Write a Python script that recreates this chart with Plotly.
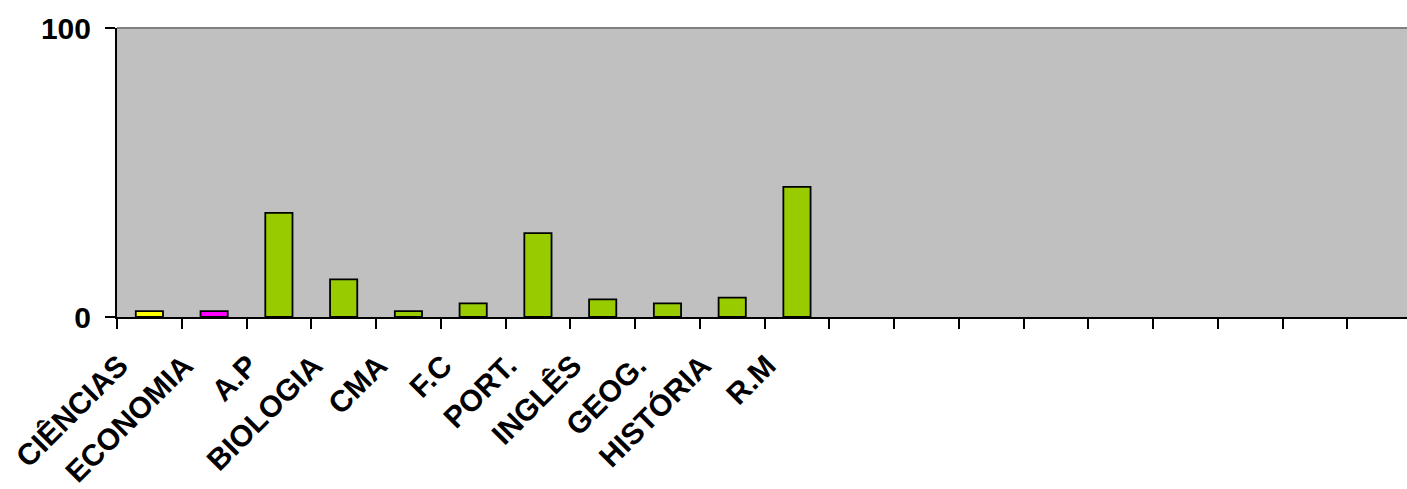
import plotly.graph_objects as go

categories = ["CIÊNCIAS", "ECONOMIA", "A.P", "BIOLOGIA", "CMA", "F.C",
              "PORT.", "INGLÊS", "GEOG.", "HISTÓRIA", "R.M"]
values = [2, 2, 36, 13, 2, 4.7, 29, 6.1, 4.7, 6.7, 45]
bar_colors = ["#FFFF00", "#FF00FF"] + ["#99CC00"] * 9
total_slots = 20
empty_slots = [" " * (k + 1) for k in range(total_slots - len(categories))]
y_ticks = [0, 100]

all_cats = categories + empty_slots

fig = go.Figure()
fig.add_trace(go.Bar(
    x=categories, y=values,
    marker=dict(color=bar_colors, line=dict(color="#000000", width=1.8)),
    width=0.42,
))

font_family = "Arial, Liberation Sans, sans-serif"
fig.update_layout(
    width=1407, height=489,
    margin=dict(l=117, r=0, t=28, b=172, autoexpand=False),
    paper_bgcolor="#FFFFFF",
    plot_bgcolor="#C0C0C0",
    showlegend=False,
    xaxis=dict(
        type="category",
        categoryorder="array", categoryarray=all_cats,
        range=[-0.5, 19.42],
        automargin=False,
        showline=True, linecolor="#000000", linewidth=2,
        ticks="outside", ticklen=10, tickwidth=2, tickcolor="#000000",
        tickson="boundaries",
        tickangle=-45,
        ticklabelstandoff=17,
        ticklabelshift=-30,
        tickfont=dict(family=font_family, size=30, color="#000000", weight="bold"),
        showgrid=False, zeroline=False,
    ),
    yaxis=dict(
        range=[0, 100],
        tickvals=y_ticks,
        automargin=False,
        showline=True, linecolor="#000000", linewidth=2,
        ticks="outside", ticklen=10, tickwidth=2, tickcolor="#000000",
        ticklabelstandoff=8,
        tickfont=dict(family=font_family, size=30, color="#000000", weight="bold"),
        showgrid=False, zeroline=False,
    ),
    shapes=[dict(type="line", xref="paper", yref="paper", x0=0, x1=1, y0=1, y1=1,
                 line=dict(color="#808080", width=2))],
)

fig.write_html(
    "out.html",
    config={"displayModeBar": False},
    post_script="document.body.style.margin='0px';document.body.style.overflow='hidden';",
)
